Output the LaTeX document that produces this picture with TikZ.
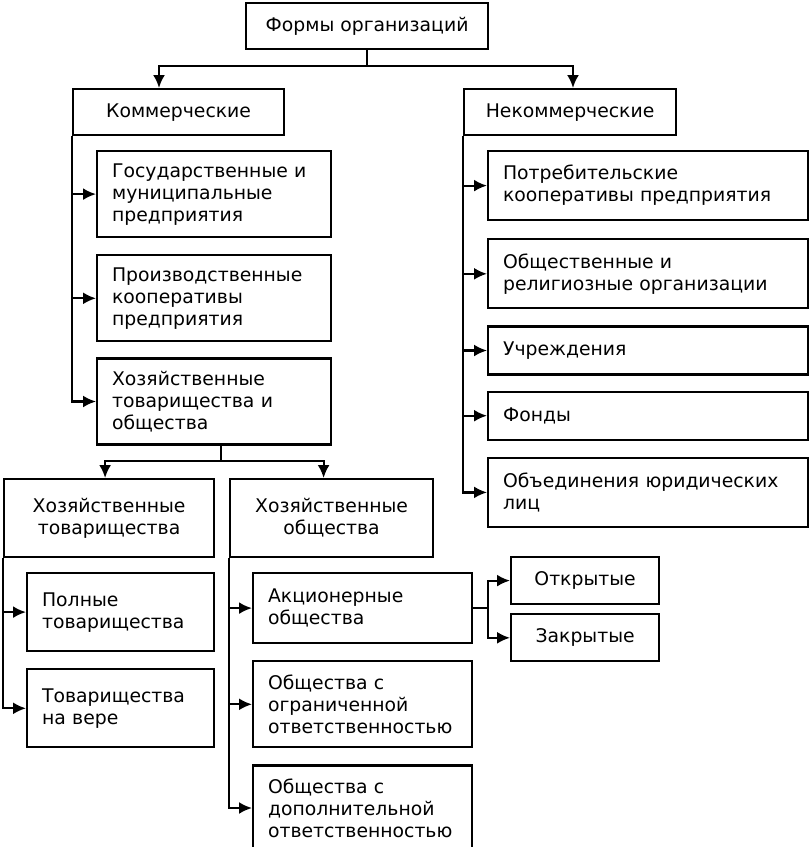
\documentclass[tikz,border=0pt]{standalone}
\usepackage{fontspec}
\setmainfont{DejaVu Sans}
\usetikzlibrary{positioning}
\usetikzlibrary{arrows.meta}

\begin{document}
\begin{tikzpicture}[
    x=1pt, y=-1pt,
    node distance=16pt,
    line width=2.2pt,
    orgbox/.style={draw, anchor=north west, inner xsep=15pt, inner ysep=0pt, align=left, font=\fontsize{18.8}{22}\selectfont},
    orghead/.style={orgbox, align=center},
    orgarrow/.style={-{Latex[length=13pt,width=12pt]}}
    ]
    \useasboundingbox (0,0) rectangle (809,847);

    \node[orghead, minimum width=242pt, minimum height=46pt] (forms) at (245,2) {Формы организаций};
    \node[orghead, minimum width=211pt, minimum height=46pt] (kom) at (72,88) {Коммерческие};
    \node[orghead, minimum width=212pt, minimum height=46pt] (nekom) at (463,88) {Некоммерческие};

    \node[orgbox, text width=204pt, minimum height=86pt] (gos) at (96,150) {Государственные и\\муниципальные\\предприятия};
    \node[orgbox, text width=204pt, minimum height=86pt, below=16pt of gos] (proiz) {Производственные\\кооперативы\\предприятия};
    \node[orgbox, text width=204pt, minimum height=86pt, below=15pt of proiz] (hoz) {Хозяйственные\\товарищества и\\общества};

    \node[orgbox, text width=290pt, minimum height=69pt] (potr) at (487,150) {Потребительские\\кооперативы предприятия};
    \node[orgbox, text width=290pt, minimum height=69pt, below=17pt of potr] (obsh) {Общественные и\\религиозные организации};
    \node[orgbox, text width=290pt, minimum height=48pt, below=16pt of obsh] (uchr) {Учреждения};
    \node[orgbox, text width=290pt, minimum height=48pt, below=15pt of uchr] (fond) {Фонды};
    \node[orgbox, text width=290pt, minimum height=69pt, below=16pt of fond] (obed) {Объединения юридических\\лиц};

    \node[orghead, minimum width=210pt, minimum height=78pt] (hozt) at (3,478) {Хозяйственные\\товарищества};
    \node[orghead, minimum width=203pt, minimum height=78pt] (hozo) at (229,478) {Хозяйственные\\общества};
    \node[orgbox, text width=157pt, minimum height=78pt] (poln) at (26,572) {Полные\\товарищества};
    \node[orgbox, text width=157pt, minimum height=78pt, below=16pt of poln] (vera) {Товарищества\\на вере};
    \node[orgbox, text width=189pt, minimum height=70pt] (ao) at (252,572) {Акционерные\\общества};
    \node[orgbox, text width=189pt, minimum height=86pt, below=16pt of ao] (ooo) {Общества с\\ограниченной\\ответственностью};
    \node[orgbox, text width=189pt, minimum height=85pt, below=16pt of ooo] (odo) {Общества с\\дополнительной\\ответственностью};
    \node[orghead, minimum width=148pt, minimum height=47pt] (otkr) at (510,556) {Открытые};
    \node[orghead, minimum width=148pt, minimum height=47pt, below=8pt of otkr] (zakr) {Закрытые};

    \coordinate (j1) at ([yshift=-16pt]forms.south);
    \draw (forms.south) -- (j1);
    \draw[orgarrow] (j1) -| ([xshift=87pt]kom.north west);
    \draw[orgarrow] (j1) -| ([xshift=110pt]nekom.north west);

    \foreach \n in {gos,proiz,hoz} \draw[orgarrow] (kom.south west) |- (\n.west);
    \foreach \n in {potr,obsh,uchr,fond,obed} \draw[orgarrow] (nekom.south west) |- (\n.west);

    \coordinate (j2) at ([xshift=7pt,yshift=-15pt]hoz.south);
    \draw ([xshift=7pt]hoz.south) -- (j2);
    \draw[orgarrow] (j2) -| ([xshift=-4pt]hozt.north);
    \draw[orgarrow] (j2) -| ([xshift=-8pt]hozo.north);

    \foreach \n in {poln,vera} \draw[orgarrow] (hozt.south west) |- (\n.west);
    \foreach \n in {ao,ooo,odo} \draw[orgarrow] (hozo.south west) |- (\n.west);

    \coordinate (j3) at ([xshift=15pt]ao.east);
    \draw (ao.east) -- (j3);
    \draw[orgarrow] (j3) |- (otkr.west);
    \draw[orgarrow] (j3) |- (zakr.west);

  \end{tikzpicture}
\end{document}
